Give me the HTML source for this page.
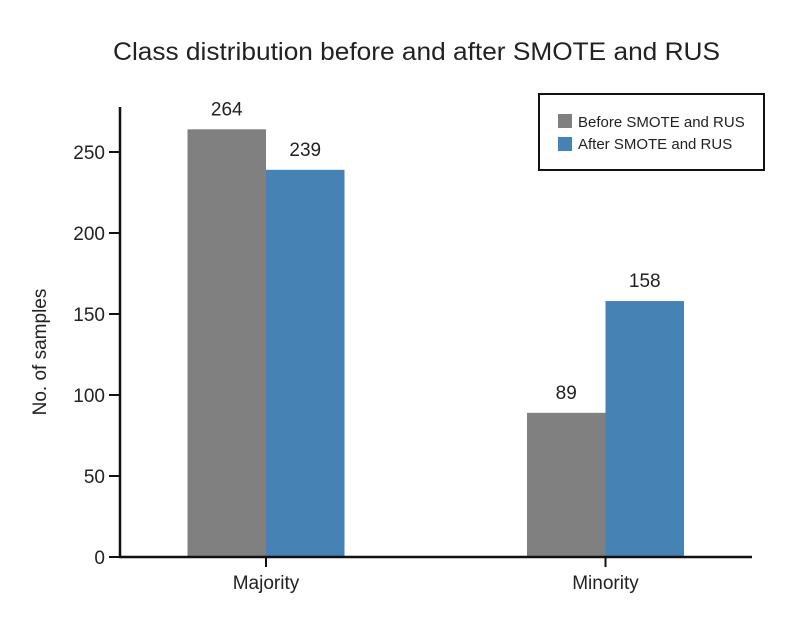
<!DOCTYPE html>
<html><head><meta charset="utf-8"><style>
body{margin:0;background:#fff;width:789px;height:620px;overflow:hidden}
svg text{font-family:"Liberation Sans",sans-serif;fill:#222}
</style></head><body>
<svg id="c" width="789" height="620">
<text x="113" y="60" font-size="25" textLength="607" lengthAdjust="spacingAndGlyphs">Class distribution before and after SMOTE and RUS</text>
<text transform="translate(46 352) rotate(-90)" font-size="19" text-anchor="middle">No. of samples</text>
<g id="plot"></g>
<g>
<rect x="539" y="94" width="225" height="76" fill="#fff" stroke="#111" stroke-width="2"/>
<rect x="558" y="114" width="14" height="14" fill="#808080"/>
<text x="578" y="127" font-size="15">Before SMOTE and RUS</text>
<rect x="558" y="137" width="14" height="14" fill="#4682b4"/>
<text x="578" y="149" font-size="15">After SMOTE and RUS</text>
</g>
</svg>
<script>
const categories=["Majority","Minority"];
const beforeValues=[264,89];
const afterValues=[239,158];
const yTicks=[0,50,100,150,200,250];
const ns="http://www.w3.org/2000/svg";
const g=document.getElementById('plot');
const x0=120,x1=752,yBase=557,yTop=107;
const yS=v=>yBase-v*(557-152)/250;
const centers=[266,605.5];
const bw=78.5;
function mk(t,a){const e=document.createElementNS(ns,t);for(const k in a)e.setAttribute(k,a[k]);g.appendChild(e);return e;}
categories.forEach((c,i)=>{
 const cx=centers[i];
 [[beforeValues[i],'#808080',cx-bw,'before'],[afterValues[i],'#4682b4',cx,'after']].forEach(([v,col,x,s])=>{
  const r=mk('rect',{x:x,y:yS(v),width:bw,height:yBase-yS(v),fill:col});
  
  
  const t=mk('text',{x:x+bw/2,y:yS(v)-14,'font-size':19,'text-anchor':'middle'});
  t.textContent=v;
  
  
 });
 const tk=mk('line',{x1:cx,x2:cx,y1:yBase,y2:yBase+10,stroke:'#111','stroke-width':2});
 
 
 const tl=mk('text',{x:cx,y:589,'font-size':19,'text-anchor':'middle'});
 tl.textContent=c;
 
 
});
yTicks.forEach(v=>{
 const l=mk('line',{x1:x0-11,x2:x0,y1:yS(v),y2:yS(v),stroke:'#111','stroke-width':2});
 
 
 const t=mk('text',{x:x0-15,y:yS(v)+7,'font-size':19,'text-anchor':'end'});
 t.textContent=v;
 
 
});
const ya=mk('line',{x1:x0,x2:x0,y1:yTop,y2:yBase+1,stroke:'#111','stroke-width':2.5});


const xa=mk('line',{x1:x0-1,x2:x1,y1:yBase,y2:yBase,stroke:'#111','stroke-width':2.5});


</script>
</body></html>
